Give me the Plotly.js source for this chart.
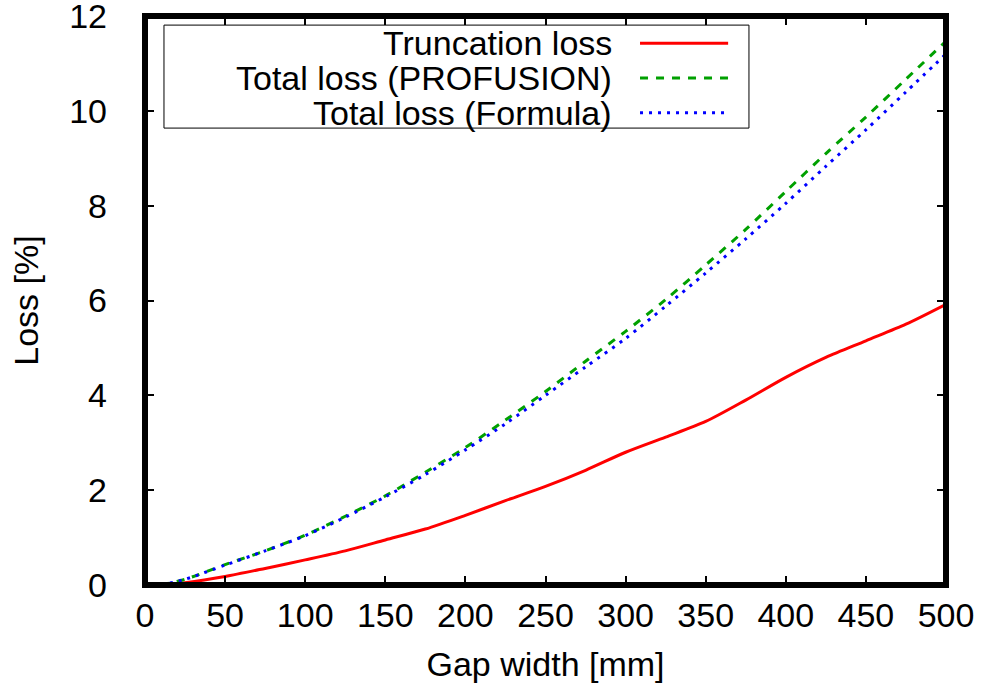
<!DOCTYPE html>
<html>
<head>
<meta charset="utf-8">
<script src="https://cdn.plot.ly/plotly-3.0.1.min.js"></script>
<style>html,body{margin:0;padding:0;background:#fff;}#chart{width:983px;height:696px;}</style>
</head>
<body>
<div id="chart"></div>
<script>
// Gap width [mm]
const gapWidth = [10, 25, 50, 75, 100, 125, 150, 175, 200, 225, 250, 275, 300, 325, 350, 375, 400, 425, 450, 475, 500];
// Loss [%]
const truncationLoss = [0, 0.05, 0.18, 0.35, 0.53, 0.72, 0.95, 1.18, 1.47, 1.78, 2.08, 2.42, 2.8, 3.12, 3.45, 3.9, 4.38, 4.8, 5.15, 5.5, 5.92];
const totalProfusion = [0, 0.12, 0.43, 0.72, 1.05, 1.45, 1.88, 2.38, 2.9, 3.48, 4.08, 4.72, 5.35, 6.02, 6.75, 7.5, 8.3, 9.1, 9.87, 10.67, 11.47];
const totalFormula = [0, 0.12, 0.42, 0.72, 1.04, 1.43, 1.86, 2.33, 2.85, 3.4, 4.0, 4.6, 5.2, 5.88, 6.58, 7.3, 8.05, 8.83, 9.6, 10.4, 11.2];

const seriesNames = ["Truncation loss", "Total loss (PROFUSION)", "Total loss (Formula)"];
const seriesColors = ["#ff0000", "#00a000", "#0000ff"];
const seriesDash = ["solid", "8px,8px", "3px,6px"];
const xTicks = [0, 50, 100, 150, 200, 250, 300, 350, 400, 450, 500];
const yTicks = [0, 2, 4, 6, 8, 10, 12];

const FONT = "Liberation Sans, Arial, Helvetica, sans-serif";
const FS = 34;

const ys = [truncationLoss, totalProfusion, totalFormula];
const traces = ys.map((y, i) => ({
  x: gapWidth, y: y, type: "scatter", mode: "lines", name: seriesNames[i],
  line: {color: seriesColors[i], width: 3, dash: seriesDash[i], shape: "spline", smoothing: 0.8},
  showlegend: false, hoverinfo: "skip"
}));

// manual legend (text left, sample right)
const legRows = [0.952, 0.891, 0.830];
const shapes = [
  {type: "rect", xref: "paper", yref: "paper", x0: 0, x1: 1, y0: 0, y1: 1,
   line: {color: "#000", width: 6}, layer: "above"},
  {type: "rect", xref: "paper", yref: "paper", x0: 0.0237, x1: 0.754, y0: 0.803, y1: 0.984,
   line: {color: "#000", width: 1}, fillcolor: "rgba(0,0,0,0)", layer: "above"}
];
const annotations = [];
seriesNames.forEach((n, i) => {
  shapes.push({type: "line", xref: "paper", yref: "paper", x0: 0.618, x1: 0.728, y0: legRows[i], y1: legRows[i],
    line: {color: seriesColors[i], width: 3, dash: seriesDash[i]}, layer: "above"});
  annotations.push({xref: "paper", yref: "paper", x: 0.586, y: legRows[i], xanchor: "right", yanchor: "middle",
    text: n, showarrow: false, font: {family: FONT, size: FS, color: "#000"}});
});

const layout = {
  width: 983, height: 696,
  margin: {l: 145, r: 37, t: 16, b: 111, pad: 0},
  paper_bgcolor: "#fff", plot_bgcolor: "#fff",
  font: {family: FONT, size: FS, color: "#000"},
  xaxis: {
    range: [0, 500], tickvals: xTicks, ticktext: xTicks.map(String),
    ticks: "inside", ticklen: 9, tickwidth: 2, tickcolor: "#000", mirror: "ticks",
    showgrid: false, zeroline: false, showline: false, ticklabeloverflow: "allow",
    tickfont: {family: FONT, size: FS}, ticklabelstandoff: 7,
    title: {text: "Gap width [mm]", font: {family: FONT, size: FS}, standoff: 19}
  },
  yaxis: {
    range: [0, 12.001], tickvals: yTicks, ticktext: yTicks.map(String),
    ticks: "inside", ticklen: 9, tickwidth: 2, tickcolor: "#000", mirror: "ticks",
    showgrid: false, zeroline: false, showline: false, ticklabeloverflow: "allow",
    tickfont: {family: FONT, size: FS}, ticklabelstandoff: 37,
    title: {text: "Loss [%]", font: {family: FONT, size: FS}, standoff: 20}
  },
  shapes: shapes,
  annotations: annotations,
  showlegend: false
};

Plotly.newPlot("chart", traces, layout, {staticPlot: true, displayModeBar: false});
</script>
</body>
</html>
